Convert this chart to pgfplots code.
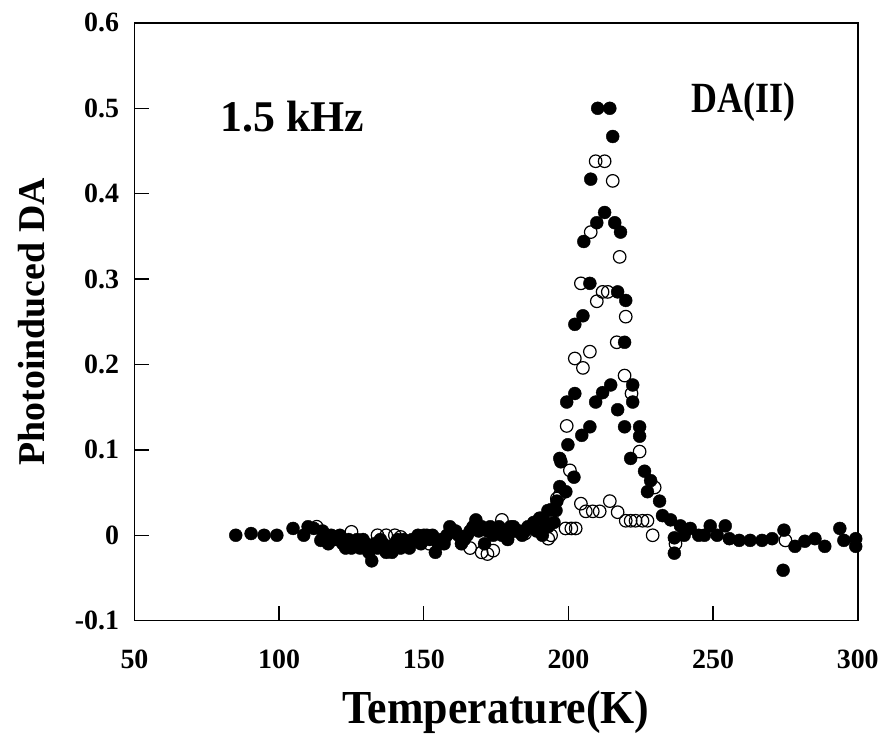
\documentclass[border=0pt]{standalone}
\usepackage{pgfplots}
\pgfplotsset{compat=1.18}
\usepackage{fontspec}
\setmainfont{Liberation Serif}
\begin{document}
\begin{tikzpicture}
\begin{axis}[
  scale only axis, width=726pt, height=600pt,
  xmin=50, xmax=300, ymin=-0.1, ymax=0.6,
  axis line style={line width=1.6pt},
  xtick={50,100,150,200,250,300},
  ytick={-0.1,0,0.1,0.2,0.3,0.4,0.5,0.6},
  yticklabels={-0.1,0,0.1,0.2,0.3,0.4,0.5,0.6},
  xticklabels={50,100,150,200,250,300},
  xtick pos=bottom, ytick pos=left,
  tick align=inside,
  major tick length=15pt,
  tick style={line width=1.3pt, black},
  /pgf/number format/assume math mode=true,
  xticklabel style={font=\fontsize{28}{30}\selectfont\bfseries, yshift=-26pt},
  yticklabel style={font=\fontsize{28}{30}\selectfont\bfseries, xshift=-12pt},
  clip=false,
]
% open circles
\addplot[only marks, mark=o, mark size=6.3pt, mark options={line width=1.2pt, black}] coordinates {
(113,0.010)(125,0.004)(134,0.000)(137,0.000)(140,0.000)(142,-0.002)
(152,-0.010)(157,-0.005)(166,-0.015)(170,-0.020)(172,-0.022)(174,-0.018)
(177,0.018)(181,0.005)(185,0.002)(193,-0.004)(194,0.000)(196,0.043)
(199,0.008)(201,0.008)(202.5,0.008)
(204.3,0.037)(206,0.028)(208.4,0.028)(210.8,0.028)(214.3,0.040)(217,0.027)
(219.8,0.017)(221.5,0.017)(223.2,0.017)(225.6,0.017)(227.3,0.017)(229.1,0.000)
(237,-0.010)(275,-0.006)
(209.4,0.438)(212.5,0.438)(215.3,0.415)(207.7,0.355)(217.7,0.326)
(204.3,0.295)(211.8,0.285)(213.6,0.285)(209.8,0.274)(219.8,0.256)
(216.7,0.226)(207.4,0.215)(202.2,0.207)(205.0,0.196)(219.4,0.187)
(221.8,0.166)(199.4,0.128)(224.6,0.098)(200.5,0.076)(197.0,0.047)(229.8,0.056)
};
% filled circles
\addplot[only marks, mark=*, mark size=6.5pt, mark options={black, fill=black}] coordinates {
(85,0.000)(90.3,0.002)(94.8,0.000)(99.2,0.000)(104.8,0.008)(108.5,0.000)(112,0.008)(114.4,-0.006)
(110,0.010)(116,-0.005)(118,0.000)(120,-0.005)(122,-0.010)(124,-0.005)(126,-0.010)
(128,-0.015)(130,-0.010)(132,-0.030)(134,-0.015)(136,-0.010)(138,-0.015)(140,-0.010)
(142,-0.015)(144,-0.010)(146,-0.005)(148,0.000)(150,0.000)(152,-0.005)(154,-0.020)
(156,-0.005)(158,0.000)(160,0.005)(162,0.000)(164,-0.005)(166,0.005)(168,0.018)
(170,0.010)(172,0.005)(174,0.000)(176,0.010)(178,0.005)(180,0.010)(182,0.005)
(184,0.000)(186,0.010)(188,0.015)(190,0.020)(192,0.015)(194,0.030)(196,0.040)
(115,0.005)(119,-0.005)(123,-0.015)(127,-0.005)(131,-0.020)(135,-0.005)(139,-0.020)
(143,-0.005)(147,-0.005)(151,0.000)(155,-0.010)(159,0.010)(163,-0.010)(167,0.010)
(171,-0.010)(175,0.005)(179,-0.005)(183,0.005)(187,0.010)(191,0.000)(193,0.010)(195,0.015)
(117,-0.010)(121,0.000)(125,-0.015)(129,-0.005)(133,-0.010)(137,-0.020)(141,-0.005)
(145,-0.015)(149,-0.010)(153,0.000)(157,-0.010)(161,0.005)(165,0.000)(169,0.005)
(173,0.010)(177,0.000)(181,0.010)(185,0.005)(189,0.005)
(210.1,0.500)(214.3,0.500)(215.3,0.467)(207.7,0.417)(212.5,0.378)(209.8,0.366)
(216.0,0.366)(218.0,0.355)(205.3,0.344)(207.4,0.295)(217.0,0.285)(219.8,0.275)
(205.0,0.257)(202.2,0.247)(219.4,0.226)(222.2,0.176)(222.2,0.156)(202.2,0.166)
(199.4,0.156)(214.6,0.176)(211.8,0.167)(209.4,0.156)(217.0,0.147)(207.4,0.127)
(204.6,0.117)(199.8,0.106)(219.4,0.127)(224.6,0.127)(224.6,0.116)(221.5,0.090)
(197.0,0.090)(197.4,0.086)(201.9,0.068)(197.0,0.057)(199.1,0.051)(192.9,0.029)
(195.7,0.029)(190.5,0.020)(226.3,0.075)(228.4,0.064)(227.3,0.051)(231.5,0.040)
(232.5,0.023)(235.3,0.018)(238.7,0.011)(242.1,0.008)(236.6,-0.003)(236.6,-0.021)
(240,0.000)(245,0.000)
(249.0,0.011)(254.2,0.011)(247.0,0.000)(251.4,0.000)(255.6,-0.004)(259.0,-0.006)
(262.8,-0.006)(266.9,-0.006)(270.4,-0.004)(274.5,0.006)(278.3,-0.013)(281.7,-0.007)
(285.2,-0.004)(288.6,-0.013)(293.8,0.008)(295.2,-0.006)(299.3,-0.004)(299.3,-0.013)
(274.2,-0.041)
};
\node[font=\fontsize{44}{48}\selectfont\bfseries] at (rel axis cs:0.218,0.843) {1.5 kHz};
\node[font=\fontsize{36}{40}\selectfont\bfseries, yscale=1.2] at (rel axis cs:0.842,0.867) {DA(II)};
\node[font=\fontsize{38}{42}\selectfont\bfseries, rotate=90] at ([xshift=-103pt]rel axis cs:0,0.5) {Photoinduced DA};
\node[font=\fontsize{44}{48}\selectfont\bfseries, yscale=1.08] at ([yshift=-92pt]rel axis cs:0.5,0) {Temperature(K)};
\path (rel axis cs:0,0) ++(-135pt,-115pt) coordinate (bbA);
\path (rel axis cs:1,1) ++(21pt,23pt) coordinate (bbB);
\end{axis}
\path (bbA) rectangle (bbB);
\end{tikzpicture}
\end{document}
